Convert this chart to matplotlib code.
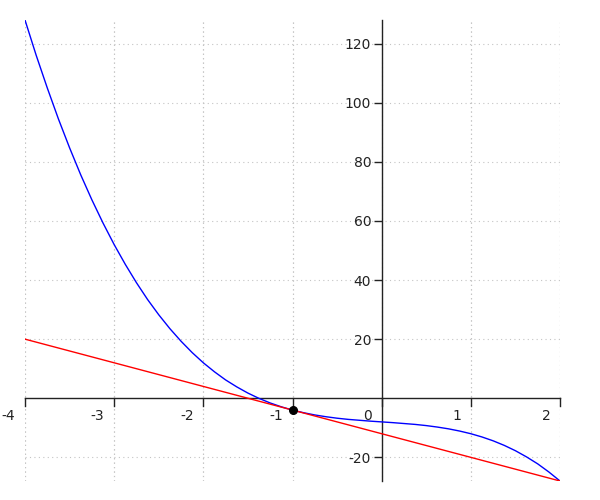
import numpy as np
import matplotlib
matplotlib.use("Agg")
import matplotlib.pyplot as plt
from matplotlib.transforms import ScaledTranslation

# curve values (every 1/8 along x)
curve_x = [-4.0, -3.875, -3.75, -3.625, -3.5, -3.375, -3.25, -3.125, -3.0,
           -2.875, -2.75, -2.625, -2.5, -2.375, -2.25, -2.125, -2.0,
           -1.875, -1.75, -1.625, -1.5, -1.375, -1.25, -1.125, -1.0,
           -0.875, -0.75, -0.625, -0.5, -0.375, -0.25, -0.125, 0.0,
           0.125, 0.25, 0.375, 0.5, 0.625, 0.75, 0.875, 1.0,
           1.125, 1.25, 1.375, 1.5, 1.625, 1.75, 1.875, 2.0]
curve_y = [128.0, 116.1, 105.0, 94.5, 84.75, 75.6, 67.15, 59.3, 52.0,
           45.3, 39.1, 33.4, 28.25, 23.55, 19.3, 15.45, 12.0,
           8.95, 6.2, 3.85, 1.75, -0.05, -1.6, -2.9, -4.0,
           -4.9, -5.65, -6.25, -6.75, -7.15, -7.45, -7.75, -8.0,
           -8.25, -8.55, -8.85, -9.25, -9.75, -10.35, -11.1, -12.0,
           -13.1, -14.4, -15.95, -17.75, -19.85, -22.2, -24.95, -28.0]

# tangent line end points and touching point
line_x = [-4.0, 2.0]
line_y = [20.0, -28.0]
point_x = [-1.0]
point_y = [-4.0]

x_ticks = [-4, -3, -2, -1, 0, 1, 2]
y_ticks = [-20, 20, 40, 60, 80, 100, 120]

fig = plt.figure(figsize=(6, 5), dpi=100)
ax = fig.add_axes([25/600, 1 - 481/500, 535/600, 461/500])

ax.plot(curve_x, curve_y, color='#0000ff', lw=1.0, zorder=3)
ax.plot(line_x, line_y, color='#ff0000', lw=1.0, zorder=3)
ax.plot(point_x, point_y, 'o', color='black', ms=5.5, zorder=4)

ax.set_xlim(-4, 2.0)
ax.set_ylim(-28, 128)

ax.spines['left'].set_position(('data', 0))
ax.spines['bottom'].set_position(('data', 0))
ax.spines['right'].set_visible(False)
ax.spines['top'].set_visible(False)
for s in ['left', 'bottom']:
    ax.spines[s].set_linewidth(1.0)
    ax.spines[s].set_color('#222222')

ax.set_xticks(x_ticks)
ax.set_yticks(y_ticks)
ax.set_xticklabels([str(t) for t in x_ticks])
ax.set_yticklabels([str(t) for t in y_ticks])
ax.tick_params(axis='x', direction='in', length=0, labelsize=10, pad=7.5, colors='#222222')
ax.tick_params(axis='y', direction='out', length=6, width=1.0, labelsize=10, pad=1.5, colors='#222222')

# x ticks hang down from the axis, labels sit left of them
for t in x_ticks:
    ax.plot([t, t], [0, -2.7], color='#222222', lw=1.0, clip_on=False, zorder=2)
offset = ScaledTranslation(-7/72, 0, fig.dpi_scale_trans)
for lab in ax.get_xticklabels():
    lab.set_horizontalalignment('right')
    lab.set_transform(lab.get_transform() + offset)

# sparse light dotted grid
grid_style = dict(linestyle=(0, (1, 3)), color='#c4c4c4', lw=0.8)
ax.grid(True, **grid_style)
for t in [-4, -3, -2, -1, 1, 2]:
    ax.axvline(t, zorder=0, **grid_style)
ax.set_axisbelow(True)

fig.savefig('out.png', dpi=100)
